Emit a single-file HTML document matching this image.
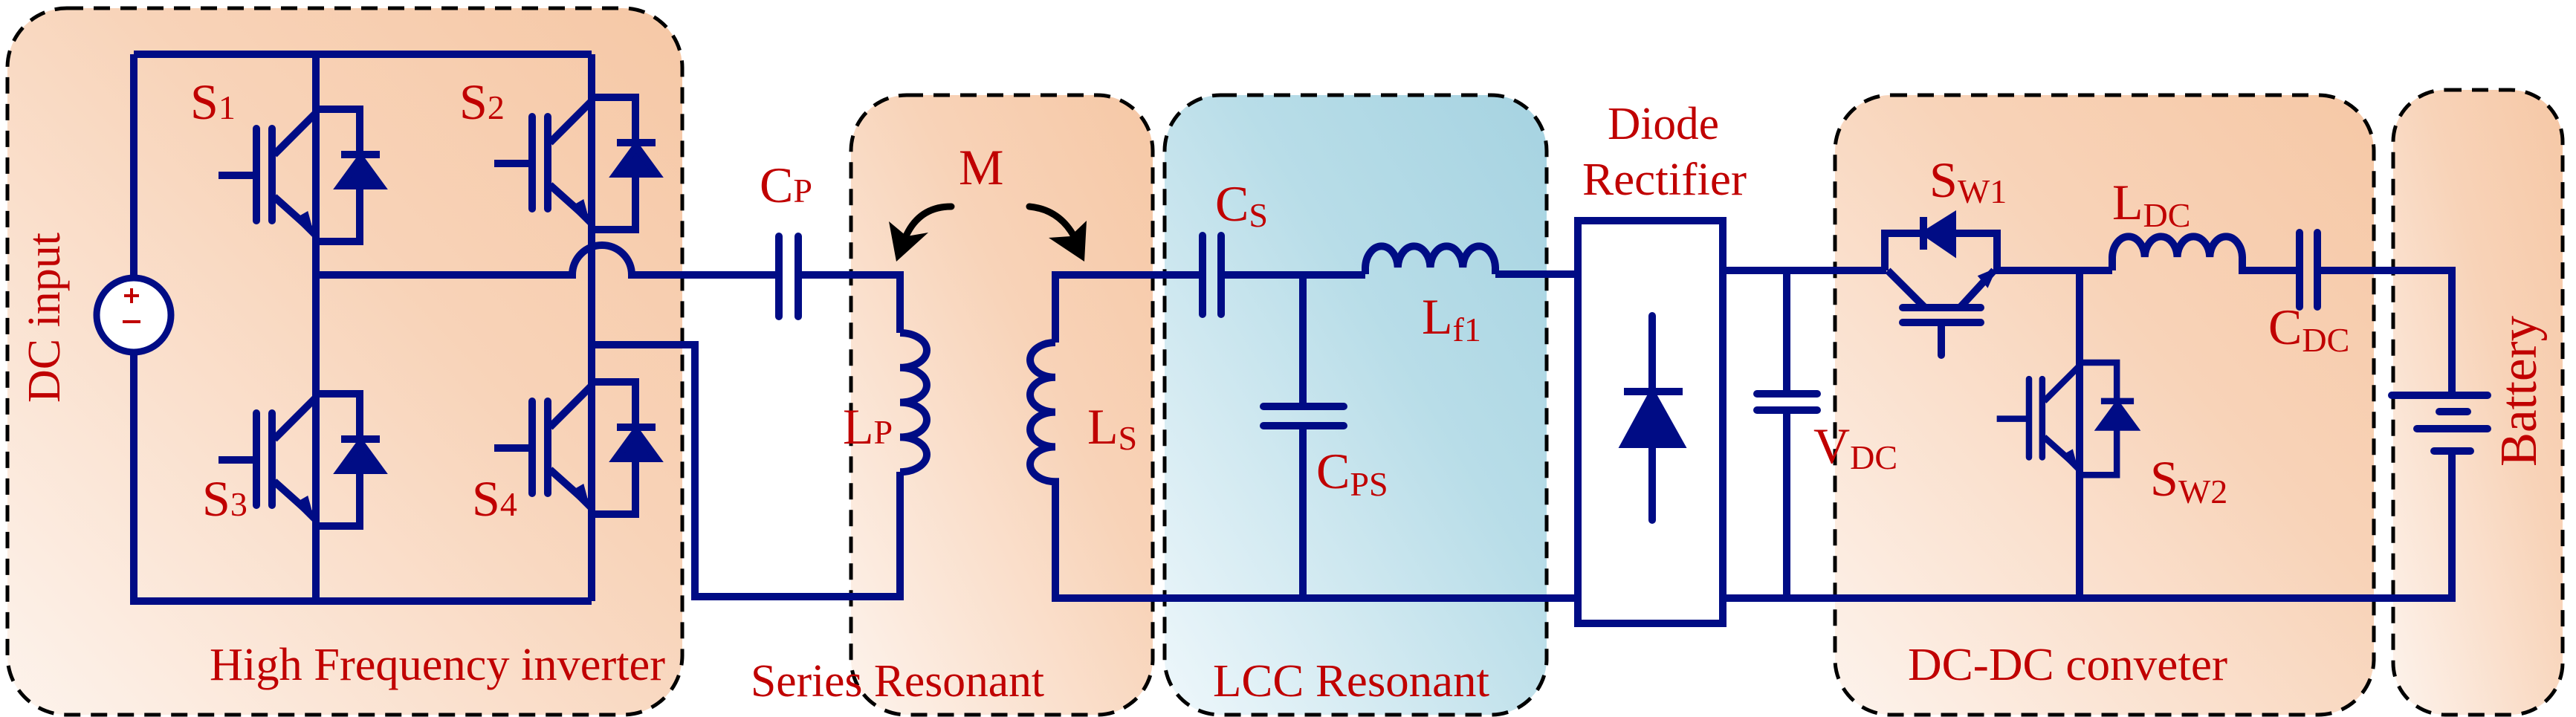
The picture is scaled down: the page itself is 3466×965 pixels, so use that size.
<!DOCTYPE html>
<html><head><meta charset="utf-8"><style>
html,body{margin:0;padding:0;background:#fff;}
svg{display:block;}
svg text{font-family:"Liberation Serif","DejaVu Serif",serif;fill:#c00000;}
</style></head><body>
<svg width="3466" height="965" viewBox="0 0 3466 965" xmlns="http://www.w3.org/2000/svg">
<defs>
<linearGradient id="pe" x1="0" y1="1" x2="1" y2="0">
<stop offset="0" stop-color="#fdf3ec"/><stop offset="0.6" stop-color="#f8d3b8"/><stop offset="1" stop-color="#f6c8a6"/></linearGradient>
<linearGradient id="bl" x1="0" y1="1" x2="1" y2="0">
<stop offset="0" stop-color="#eef7fb"/><stop offset="0.6" stop-color="#b8dde8"/><stop offset="1" stop-color="#a6d3e1"/></linearGradient>
<g id="igbt" fill="none" stroke="#000c85" stroke-width="10">
<path d="M0,0 H59 V178 H0"/>
<path d="M34,61 H86" />
<path d="M60,66 L33,103 H87 Z" fill="#000c85"/>
<path d="M-80,26 V150 M-59,26 V150" stroke-linecap="round"/>
<path d="M-131,89 H-80"/>
<path d="M0,5 L-56,61 M-56,118 L0,168"/>
<path d="M-4,170 L-26,148 L-12,140 Z" fill="#000c85" stroke-width="4"/>
</g>
</defs>

<g stroke="#000" stroke-width="5" stroke-dasharray="22,14">
<rect x="10" y="11" width="908" height="951" rx="80" fill="url(#pe)"/>
<rect x="1145" y="128" width="406" height="834" rx="75" fill="url(#pe)"/>
<rect x="1567" y="128" width="514" height="834" rx="75" fill="url(#bl)"/>
<rect x="2469" y="128" width="725" height="834" rx="75" fill="url(#pe)"/>
<rect x="3220" y="121" width="228" height="841" rx="70" fill="url(#pe)"/>
</g>

<g fill="none" stroke="#000c85" stroke-width="10" stroke-linejoin="miter">
<path d="M180,73 H796 M180,73 V370 M180,478 V809 H796"/>
<path d="M425,73 V809 M796,73 V809"/>
<path d="M425,370 H770 A40,40 0 0 1 850,370 H1048 M1074,370 H1211 V448"/>
<path d="M1048,318 V426 M1074,318 V426" stroke-linecap="round"/>
<path d="M796,464 H935 V803 H1211 V635"/>
<path d="M1211,448 a36,23.4 0 0 1 0,46.8 a36,23.4 0 0 1 0,46.8 a36,23.4 0 0 1 0,46.8 a36,23.4 0 0 1 0,46.8"/>
<path d="M1420,461 V370 H1618 M1643,370 H1837 M2012,369 H2123"/>
<path d="M1420,461 a34,23.4 0 0 0 0,46.8 a34,23.4 0 0 0 0,46.8 a34,23.4 0 0 0 0,46.8 a34,23.4 0 0 0 0,46.8 V805 H2123"/>
<path d="M1618,317 V423 M1643,317 V423" stroke-linecap="round"/>
<path d="M1753,370 V547 M1753,573 V805"/>
<path d="M1700,547 H1808 M1700,573 H1808" stroke-linecap="round"/>
<path d="M1837,369 V360 a21.9,30 0 0 1 43.75,0 a21.9,30 0 0 1 43.75,0 a21.9,30 0 0 1 43.75,0 a21.9,30 0 0 1 43.75,0 V369"/>
<rect x="2123" y="297" width="195" height="542"/>
<path d="M2223,425 V700" stroke-linecap="round"/>
<path d="M2185,527 H2264"/>
<path d="M2223,530 L2186,598 H2261 Z" fill="#000c85"/>
<path d="M2318,364 H2538 M2318,805 H3299 V607"/>
<path d="M2404,364 V530 M2404,552 V805"/>
<path d="M2364,530 H2445 M2364,552 H2445" stroke-linecap="round"/>
<path d="M2536,364 V314 H2687 V364 H2842"/>
<path d="M2588,292 V336"/>
<path d="M2592,314 L2627,292 V338 Z" fill="#000c85"/>
<path d="M2540,364 L2590,414 M2637,414 L2683,364"/>
<path d="M2560,414 H2665 M2560,434 H2665" stroke-linecap="round"/>
<path d="M2612,434 V478" stroke-linecap="round"/>
<path d="M2683,364 L2664,372 L2674,384 Z" fill="#000c85" stroke-width="4"/>
<path d="M2842,364 V346 a21.9,29 0 0 1 43.75,0 a21.9,29 0 0 1 43.75,0 a21.9,29 0 0 1 43.75,0 a21.9,29 0 0 1 43.75,0 V364 H3094 M3118,364 H3299 V532"/>
<path d="M3094,313 V413 M3118,313 V413" stroke-linecap="round"/>
<path d="M2798,364 V805"/>
<path d="M3218,532 H3347 M3252,577 H3347" stroke-linecap="round"/>
<path d="M3282,554 H3320 M3275,607 H3324" stroke-linecap="round"/>
</g>
<use href="#igbt" transform="translate(425,147)"/>
<use href="#igbt" transform="translate(796,131)"/>
<use href="#igbt" transform="translate(425,530)"/>
<use href="#igbt" transform="translate(796,514)"/>
<use href="#igbt" transform="translate(2798,488) scale(0.85)"/>

<circle cx="180" cy="424" r="50" fill="#fff" stroke="#000c85" stroke-width="9"/>
<path d="M167,398 H187 M177,388 V408 M165,433 H189" stroke="#c00000" stroke-width="4"/>

<g fill="none" stroke="#000" stroke-width="9" stroke-linecap="round">
<path d="M1280,278 Q1236,278 1218,320"/>
<path d="M1385,278 Q1425,282 1445,318"/>
</g>
<path d="M1196,298 L1206,352 L1249,313 L1220,318 Z" fill="#000"/>
<path d="M1462,297 L1459,352 L1411,320 L1440,318 Z" fill="#000"/>

<g font-size="68" font-family="'Liberation Serif','DejaVu Serif',serif" fill="#c00000">
<text x="256" y="160">S<tspan font-size="46">1</tspan></text>
<text x="618" y="160">S<tspan font-size="46">2</tspan></text>
<text x="272" y="694">S<tspan font-size="46">3</tspan></text>
<text x="635" y="694">S<tspan font-size="46">4</tspan></text>
<text x="1022" y="272">C<tspan font-size="46">P</tspan></text>
<text x="1290" y="248">M</text>
<text x="1134" y="597">L<tspan font-size="46">P</tspan></text>
<text x="1463" y="597">L<tspan font-size="46" dy="8">S</tspan></text>
<text x="1635" y="297">C<tspan font-size="46" dy="8">S</tspan></text>
<text x="1771" y="657">C<tspan font-size="46" dy="10">PS</tspan></text>
<text x="1913" y="449">L<tspan font-size="46" dy="10">f1</tspan></text>
<text x="2440" y="623">V<tspan font-size="46" dy="8">DC</tspan></text>
<text x="2596" y="265">S<tspan font-size="46" dy="8">W1</tspan></text>
<text x="2842" y="295">L<tspan font-size="46" dy="10">DC</tspan></text>
<text x="3052" y="463">C<tspan font-size="46" dy="10">DC</tspan></text>
<text x="2893" y="667">S<tspan font-size="46" dy="10">W2</tspan></text>
</g>
<g font-size="62" font-family="'Liberation Serif','DejaVu Serif',serif" fill="#c00000">
<text x="2163" y="187" textLength="150" lengthAdjust="spacingAndGlyphs">Diode</text>
<text x="2129" y="262" textLength="221" lengthAdjust="spacingAndGlyphs">Rectifier</text>
<text x="282" y="915" textLength="613" lengthAdjust="spacingAndGlyphs">High Frequency inverter</text>
<text x="1010" y="937" textLength="395" lengthAdjust="spacingAndGlyphs">Series Resonant</text>
<text x="1632" y="937" textLength="372" lengthAdjust="spacingAndGlyphs">LCC Resonant</text>
<text x="2567" y="915" textLength="430" lengthAdjust="spacingAndGlyphs">DC-DC conveter</text>
<text transform="translate(80,542) rotate(-90)" textLength="229" lengthAdjust="spacingAndGlyphs">DC input</text>
<text transform="translate(3412,628) rotate(-90)" font-size="70" textLength="203" lengthAdjust="spacingAndGlyphs">Battery</text>
</g>
</svg>
</body></html>
